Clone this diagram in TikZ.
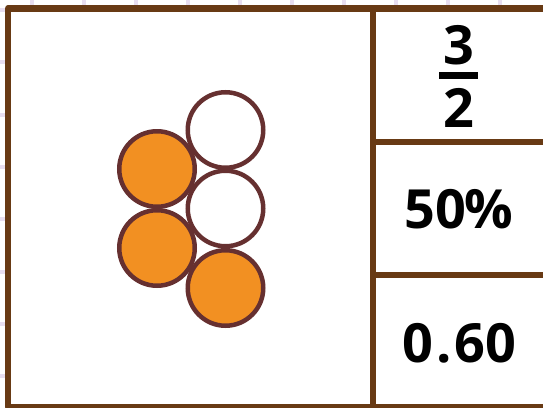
\documentclass[tikz,border=0pt]{standalone}
\usepackage{fontspec}
\setsansfont{Open Sans}
\definecolor{framebrown}{RGB}{104,58,20}
\definecolor{beadline}{RGB}{102,48,48}
\definecolor{beadorange}{RGB}{242,144,34}
\definecolor{gridlilac}{RGB}{232,222,240}
\tikzset{
  bead/.style={circle, draw=beadline, line width=4.5pt, minimum size=75.5pt, inner sep=0pt},
  fullbead/.style={bead, fill=beadorange},
  emptybead/.style={bead, fill=white},
  cellnum/.style={font=\sffamily\bfseries\fontsize{54}{60}\selectfont, inner sep=0pt}
}
\begin{document}
\begin{tikzpicture}[x=1pt,y=-1pt]
\useasboundingbox (0,0) rectangle (543,407);
% background grid
\foreach \gx in {32,84,...,550} \draw[gridlilac,line width=4pt] (\gx,0) -- (\gx,407);
\foreach \gy in {10,62.3,...,410} \draw[gridlilac,line width=4pt] (0,\gy) -- (543,\gy);
\fill[white] (8,8.5) rectangle (560,407);
% frame
\draw[framebrown,line width=6.5pt,line join=round] (560,8.5) -- (8,8.5) -- (8,407) -- (560,407);
\draw[framebrown,line width=6.5pt] (373,8.5) -- (373,407);
\draw[framebrown,line width=6.5pt] (373,142) -- (560,142);
\draw[framebrown,line width=6.5pt] (373,275) -- (560,275);
% beads
\node[emptybead] (b1) at (225.5,130) {};
\node[fullbead] (b2) at (157,169) {};
\node[emptybead] (b3) at (225.5,208.5) {};
\node[fullbead] (b4) at (157,248) {};
\node[fullbead] (b5) at (225.5,288) {};
% cells
\node[cellnum] (num) at (458.5,45) {3};
\node[fill=black, minimum width=39pt, minimum height=7pt, inner sep=0pt] (bar) at (458.5,75.5) {};
\node[cellnum] (den) at (458.5,108) {2};
\node[cellnum] (pct) at (458.5,209) {50\kern-2pt\%};
\node[cellnum] (dec) at (459.5,343) {0\kern3pt.\kern3pt60};
\end{tikzpicture}
\end{document}
